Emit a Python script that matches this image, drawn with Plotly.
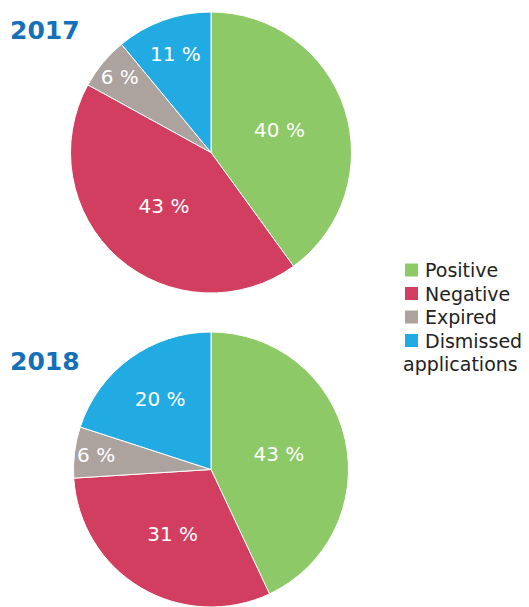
import plotly.graph_objects as go

W, H = 529, 607

labels = ["Positive", "Negative", "Expired", "Dismissed"]
legend_text = ["Positive", "Negative", "Expired", "Dismissed"]
values_2017 = [40, 43, 6, 11]
values_2018 = [43, 31, 6, 20]
colors = ["#8DC967", "#D13E5F", "#ACA39F", "#22ABE2"]

fig = go.Figure()

pie_style = dict(
    labels=labels,
    sort=False,
    direction="clockwise",
    marker=dict(colors=colors, line=dict(color="white", width=1)),
    texttemplate="%{value} %",
    textposition="inside",
    insidetextorientation="horizontal",
    textfont=dict(color="white", size=20, family="DejaVu Sans"),
    showlegend=False,
    hoverinfo="label+percent",
)

# top pie (2017)
fig.add_trace(go.Pie(values=values_2017,
                     domain=dict(x=[70 / W, 352 / W], y=[1 - 293 / H, 1 - 12 / H]),
                     **pie_style))

# bottom pie (2018)
fig.add_trace(go.Pie(values=values_2018,
                     domain=dict(x=[70 / W, 352 / W], y=[0, 1 - 332 / H]),
                     **pie_style))

title_style = dict(size=25, color="#1470B8", family="DejaVu Sans")
fig.add_annotation(text="<b>2017</b>", x=8 / W, y=1 - 30 / H, xref="paper", yref="paper",
                   xanchor="left", yanchor="middle", showarrow=False, font=title_style)
fig.add_annotation(text="<b>2018</b>", x=8 / W, y=1 - 361 / H, xref="paper", yref="paper",
                   xanchor="left", yanchor="middle", showarrow=False, font=title_style)

# legend drawn by hand so the swatch sits close to the text
legend_font = dict(size=19, color="#222222", family="DejaVu Sans")
for i, (name, col) in enumerate(zip(legend_text, colors)):
    yc = 270 + i * 23.5
    fig.add_shape(type="rect", xref="paper", yref="paper",
                  x0=405 / W, x1=418 / W, y0=1 - (yc + 6.5) / H, y1=1 - (yc - 6.5) / H,
                  fillcolor=col, line=dict(width=0))
    fig.add_annotation(text=name, x=423 / W, y=1 - yc / H, xref="paper", yref="paper",
                       xanchor="left", yanchor="middle", showarrow=False, font=legend_font)
fig.add_annotation(text="applications", x=401 / W, y=1 - 364 / H, xref="paper", yref="paper",
                   xanchor="left", yanchor="middle", showarrow=False, font=legend_font)

fig.update_layout(
    width=W,
    height=H,
    margin=dict(l=0, r=0, t=0, b=0),
    paper_bgcolor="white",
    plot_bgcolor="white",
    showlegend=False,
    uniformtext=dict(minsize=20, mode="show"),
)

# drop the browser's default 8px body margin so the figure sits at the corner
fig.write_html("out.html", config={"displayModeBar": False},
               post_script="document.body.style.margin='0px';")
